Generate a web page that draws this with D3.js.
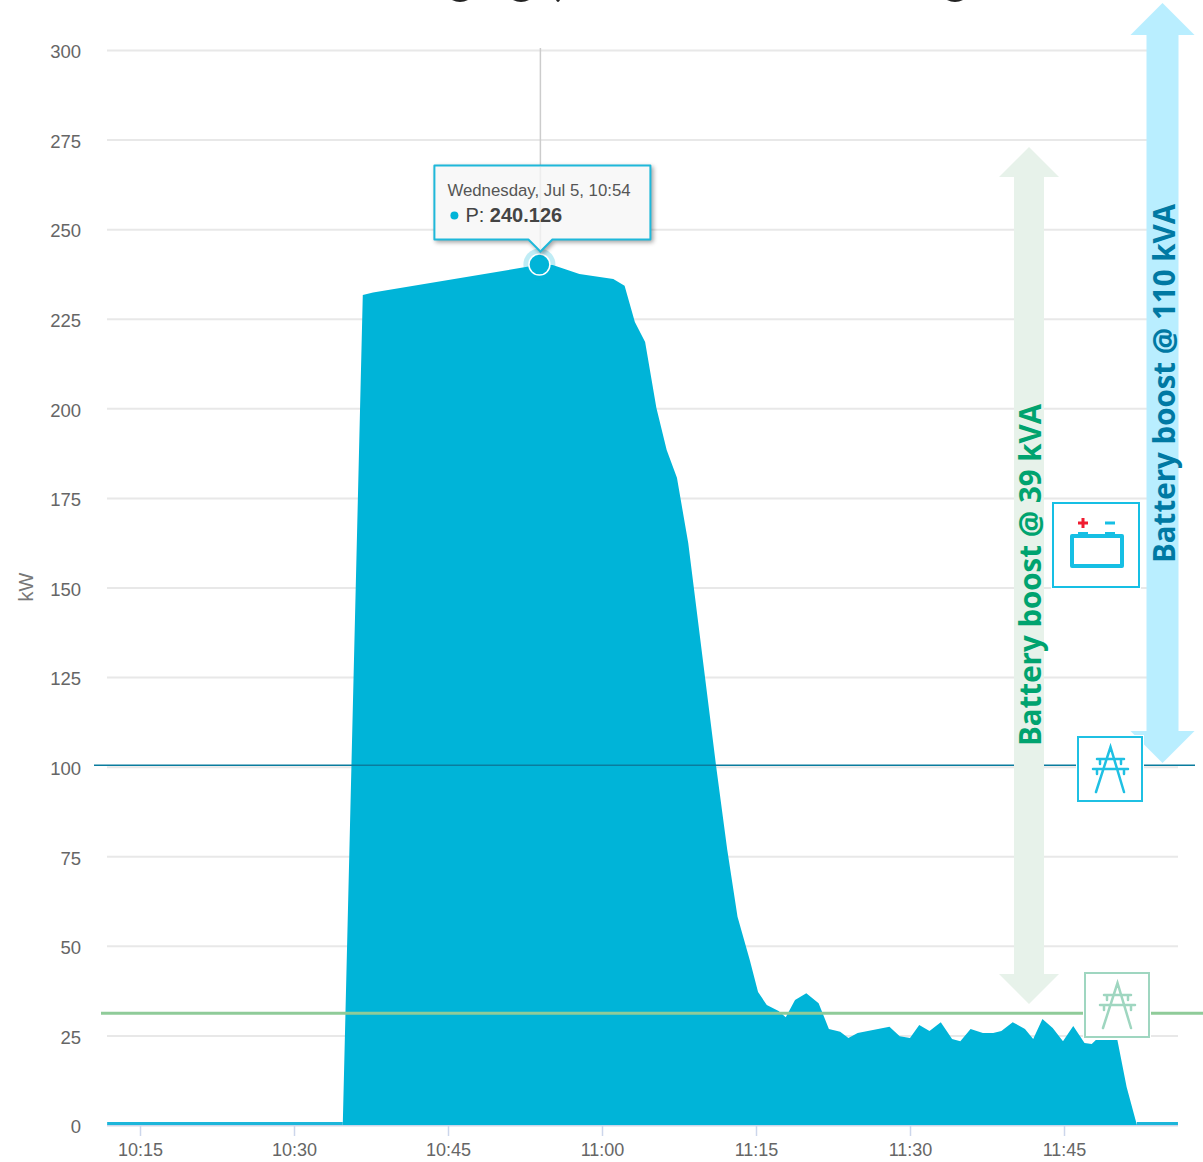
<!DOCTYPE html>
<html>
<head>
<meta charset="utf-8">
<style>
  html, body { margin: 0; padding: 0; background: #fff; }
  svg { display: block; }
  text { font-family: "Liberation Sans", Arial, sans-serif; }
  .tick text { fill: #666; font-size: 18px; }
  .note { font-family: "Open Sans", sans-serif; font-weight: 700; font-size: 29.5px; }
</style>
</head>
<body>
<svg width="1203" height="1162"></svg>
<script src="https://cdn.jsdelivr.net/npm/d3@7"></script>
<script>
// minutes after 10:00
const minutes = [11.8, 34.75, 36.7, 37.7, 54, 55.2, 57.8, 61.1, 62.2, 63.2, 64.2, 65.3, 66.3, 67.3, 68.4,
  71.1, 72.2, 73.2, 74.4, 75.2, 76.05, 77.2, 77.9, 78.8, 79.9, 81.1, 82.1, 83.2, 84, 84.9,
  88, 89, 90, 90.9, 91.9, 93, 94.1, 94.9, 95.9, 97.1, 98.1, 98.9, 100, 101.2, 102, 102.9,
  103.9, 104.9, 105.9, 107, 107.7, 108.1, 110.2, 111.1, 112.1, 116.1];
// kW
const power = [0, 0, 231.6, 232.3, 240.126, 240, 237.5, 236.1, 234.2, 224.1, 218.5, 200.1, 188.4, 180.6, 162.4,
  100.5, 76.8, 58.1, 46, 37.1, 33.5, 31.8, 30.1, 34.9, 36.8, 34, 26.8, 26, 24.3, 25.7,
  27.4, 24.8, 24.3, 27.9, 26.2, 28.7, 24, 23.4, 26.8, 25.7, 25.7, 26.2, 28.7, 26.8, 24, 29.6,
  27.1, 23.4, 27.6, 22.9, 22.6, 23.7, 23.7, 10.6, 0, 0];

const yTicks = [0, 25, 50, 75, 100, 125, 150, 175, 200, 225, 250, 275, 300];
const xTickMinutes = [15, 30, 45, 60, 75, 90, 105];
const highLimit = 100.4;
const lowLimit = 31.2;
const tooltipIndex = 4;

const svg = d3.select("svg");
const plot = {left: 107, right: 1178, top: 50, bottom: 1125};

const toTime = m => new Date(2017, 6, 5, 10, 0, m * 60);

const x = d3.scaleTime()
    .domain([toTime(15), toTime(105)])
    .range([140, 1064]);

const y = d3.scaleLinear()
    .domain([0, 300])
    .range([plot.bottom, plot.top]);

const data = minutes.map((m, i) => ({t: toTime(m), v: power[i]}));

// Title is cut off by the crop, only the descenders are left
svg.append("g")
    .selectAll("path")
    .data([[452, 16], [513, 16], [556, 4], [947, 16]])
    .join("path")
    .attr("d", d => `M${d[0]},0 Q${d[0] + d[1] / 2},4 ${d[0] + d[1]},0 Z`)
    .attr("fill", "#222");

// Gridlines + y labels
const yAxis = svg.append("g")
    .attr("transform", `translate(${plot.left},0)`)
    .call(d3.axisLeft(y)
        .tickValues(yTicks)
        .tickSize(-(plot.right - plot.left))
        .tickPadding(26));
yAxis.select(".domain").remove();
yAxis.selectAll(".tick line").attr("stroke", "#e8e8e8").attr("stroke-width", 2);
yAxis.selectAll(".tick text").attr("dy", "0.42em").style("font-size", "18.5px");

const xAxis = svg.append("g")
    .attr("transform", `translate(0,${plot.bottom})`)
    .call(d3.axisBottom(x)
        .tickValues(xTickMinutes.map(toTime))
        .tickFormat(d3.timeFormat("%H:%M"))
        .tickSize(11)
        .tickPadding(7));
xAxis.select(".domain").attr("stroke", "#ccd6eb").attr("stroke-width", 1.5)
    .attr("d", `M${plot.left},0.5H${plot.right}`);
xAxis.selectAll(".tick line").attr("stroke", "#ccd6eb").attr("stroke-width", 1.5);

svg.append("text")
    .attr("transform", "translate(33,587) rotate(-90)")
    .attr("text-anchor", "middle")
    .attr("fill", "#777")
    .style("font-size", "20px")
    .text("kW");

// Area
const area = d3.area()
    .x(d => x(d.t))
    .y0(y(0))
    .y1(d => y(d.v));

svg.append("path")
    .datum(data)
    .attr("d", area)
    .attr("fill", "#00b4d8");

// only the flat zero stretches show a line
svg.append("path")
    .datum(data)
    .attr("d", d3.line().defined(d => d.v === 0).x(d => x(d.t)).y(d => y(d.v) - 1.5))
    .attr("fill", "none")
    .attr("stroke", "#1cb6da")
    .attr("stroke-width", 3);

// Limit lines
svg.append("line")
    .attr("x1", 94).attr("x2", 1195)
    .attr("y1", y(highLimit)).attr("y2", y(highLimit))
    .attr("stroke", "#0a7c9e")
    .attr("stroke-width", 1.5);

svg.append("line")
    .attr("x1", 101).attr("x2", 1203)
    .attr("y1", y(lowLimit)).attr("y2", y(lowLimit))
    .attr("stroke", "#8fcb99")
    .attr("stroke-width", 3);

// Crosshair, marker and tooltip
const peak = data[tooltipIndex];
const px = x(peak.t), py = y(peak.v);

svg.append("line")
    .attr("x1", px).attr("x2", px)
    .attr("y1", plot.top - 2).attr("y2", py)
    .attr("stroke", "#ccc")
    .attr("stroke-width", 1.5);

svg.append("circle")
    .attr("cx", px - 1).attr("cy", py).attr("r", 16)
    .attr("fill", "#00b4d8").attr("fill-opacity", 0.25);
svg.append("circle")
    .attr("cx", px - 1).attr("cy", py).attr("r", 10.5)
    .attr("fill", "#00b4d8")
    .attr("stroke", "#fff").attr("stroke-width", 1.5);

const tip = svg.append("g").attr("transform", `translate(${px},${py})`);
tip.append("path")
    .attr("d", "M-106,-99 H110 V-25 H12 L0,-13 L-12,-25 H-106 Z")
    .attr("fill", "#f8f8f8")
    .attr("stroke", "#1fb8da")
    .attr("stroke-width", 2)
    .attr("stroke-linejoin", "round")
    .style("filter", "drop-shadow(2px 2px 2px rgba(0,0,0,0.35))");
// crosshair still shows faintly through the tooltip
tip.append("line")
    .attr("y1", -98).attr("y2", -14)
    .attr("stroke", "#ccc")
    .attr("stroke-opacity", 0.25)
    .attr("stroke-width", 1.5);
tip.append("text")
    .attr("x", -93).attr("y", -69)
    .attr("fill", "#555")
    .style("font-size", "16.8px")
    .text(d3.timeFormat("%A, %b %-d, %H:%M")(peak.t));
tip.append("circle")
    .attr("cx", -86).attr("cy", -49).attr("r", 4)
    .attr("fill", "#00b4d8");
const tipValue = tip.append("text")
    .attr("x", -75).attr("y", -43)
    .attr("fill", "#444")
    .style("font-size", "20px");
tipValue.append("tspan").text("P: ");
tipValue.append("tspan").attr("font-weight", "bold").text(d3.format(".3f")(peak.v));

// Double headed arrows
function arrow(cx, top, bottom, shaft, head, headLen, color) {
  svg.append("path")
      .attr("d", `M${cx},${top} L${cx + head},${top + headLen} H${cx + shaft} V${bottom - headLen}
        H${cx + head} L${cx},${bottom} L${cx - head},${bottom - headLen} H${cx - shaft}
        V${top + headLen} H${cx - head} Z`)
      .attr("fill", color);
}
arrow(1029, 147, 1004, 15, 30, 30, "#e7f2ea");
arrow(1162.5, 3, 763, 16, 32, 32, "#b9eeff");

svg.append("text")
    .attr("class", "note")
    .attr("transform", "translate(1041,575) rotate(-90)")
    .attr("text-anchor", "middle")
    .attr("fill", "#00a36f")
    .text("Battery boost @ 39 kVA");

svg.append("text")
    .attr("class", "note")
    .attr("transform", "translate(1175,383.5) rotate(-90)")
    .attr("text-anchor", "middle")
    .attr("fill", "#0079a3")
    .text("Battery boost @ 110 kVA");

// Icons
function iconBox(bx, by, w, h, color) {
  return svg.append("g")
      .attr("transform", `translate(${bx},${by})`)
      .call(g => g.append("rect")
          .attr("x", -2).attr("y", -2)
          .attr("width", w + 4).attr("height", h + 4)
          .attr("fill", "#fff"))
      .call(g => g.append("rect")
          .attr("width", w).attr("height", h)
          .attr("fill", "#fff")
          .attr("stroke", color)
          .attr("stroke-width", 2));
}

function tower(bx, by, color) {
  iconBox(bx, by, 64, 64, color)
      .append("path")
      .attr("d", `M18,55 L32.5,10 L46,55 M19,22 H46 M15,32 H50
        M22,22 V27 M43,22 V27 M19,32 V37 M46,32 V37`)
      .attr("fill", "none")
      .attr("stroke", color)
      .attr("stroke-width", 2.5)
      .attr("stroke-linecap", "round");
}
tower(1078, 737, "#1fc0e3");
tower(1085, 973, "#9fd6c0");

const battery = iconBox(1053, 503, 86, 84, "#16bfe4");
battery.append("path")
    .attr("d", "M19,33 H69 V63 H19 Z")
    .attr("fill", "none")
    .attr("stroke", "#16bfe4")
    .attr("stroke-width", 4)
    .attr("stroke-linejoin", "round");
battery.append("path")
    .attr("d", "M25,29 H35 V32 H25 Z M52,29 H62 V32 H52 Z")
    .attr("fill", "#16bfe4");
battery.append("path")
    .attr("d", "M52,20 H62")
    .attr("stroke", "#16bfe4")
    .attr("stroke-width", 3);
battery.append("path")
    .attr("d", "M25,20 H35 M30,15 V25")
    .attr("stroke", "#f01c30")
    .attr("stroke-width", 3);
</script>
</body>
</html>
